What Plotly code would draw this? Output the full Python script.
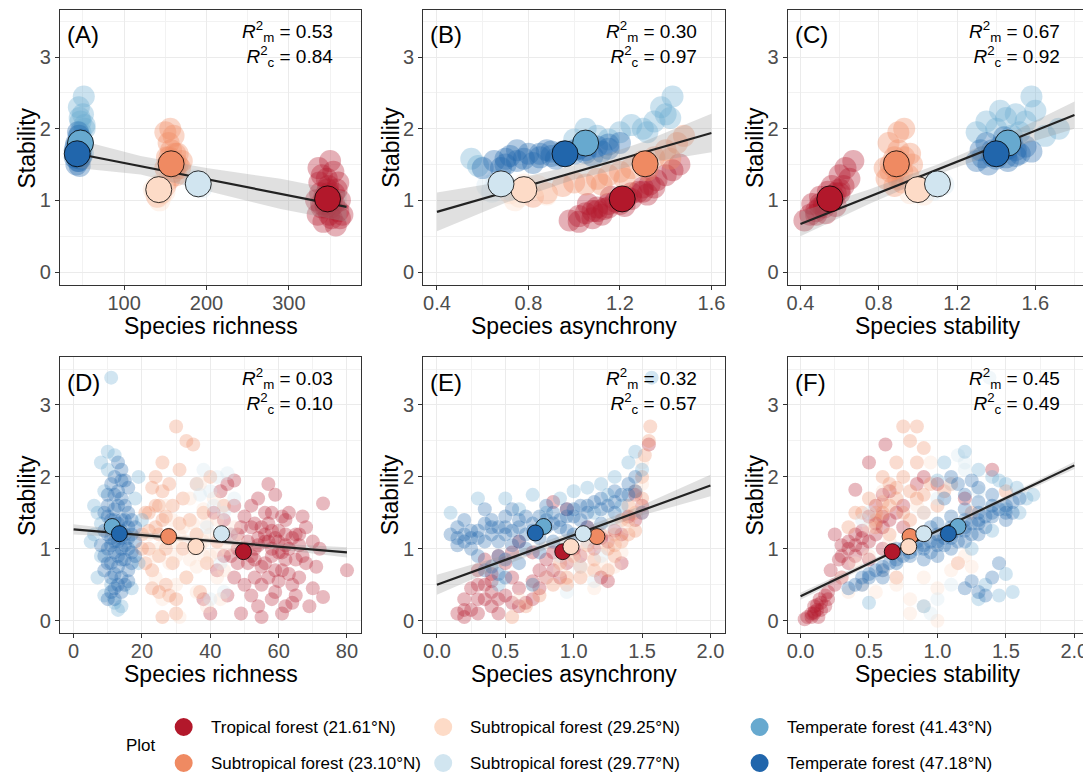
import plotly.graph_objects as go

# page offset: the browser body has an 8px margin
OFF = 8
W, H = 1091 - OFF, 773 - OFF

# ---------------- groups ----------------
KEYS = ["trop", "sub23", "sub2925", "sub2977", "temp41", "temp47"]
LABELS = ["Tropical forest (21.61°N)", "Subtropical forest (23.10°N)",
          "Subtropical forest (29.25°N)", "Subtropical forest (29.77°N)",
          "Temperate forest (41.43°N)", "Temperate forest (47.18°N)"]
COLORS = ["#B2182B", "#EF8A62", "#FDDBC7", "#D1E5F0", "#67A9CF", "#2166AC"]

# ---------------- panel A : species richness ----------------
A_CLOUD = {
    "trop": [(335, 0.8), (340, 0.9), (345, 1.0), (350, 1.05), (355, 0.95), (360, 0.85), (338, 1.1), (348, 1.2),
             (358, 1.15), (342, 0.7), (352, 0.75), (362, 1.0), (333, 1.0), (346, 1.3), (354, 1.4), (350, 1.55),
             (340, 1.35), (365, 0.8), (357, 0.65), (345, 0.9), (348, 1.1), (352, 1.0), (343, 1.05), (337, 1.25),
             (344, 0.95), (351, 0.9), (347, 1.15), (355, 1.1), (339, 0.95), (349, 0.8), (360, 1.25), (336, 1.45),
             (362, 0.75)],
    "sub23": [(155, 1.3), (160, 1.4), (150, 1.45), (165, 1.5), (158, 1.55), (152, 1.6), (162, 1.65), (157, 1.7),
              (168, 1.45), (154, 1.8), (160, 1.9), (150, 1.95), (163, 1.35), (170, 1.55), (156, 2.0), (145, 1.1),
              (150, 1.2), (140, 1.05), (158, 1.45), (162, 1.5), (155, 1.6), (165, 1.65)],
    "sub2925": [(142, 1.05), (138, 1.1), (145, 1.15), (140, 1.2), (147, 1.25), (136, 1.15), (143, 1.0), (149, 1.12)],
    "sub2977": [(188, 1.2), (192, 1.25), (186, 1.28), (194, 1.18), (190, 1.22)],
    "temp41": [(48, 1.7), (50, 1.8), (46, 1.9), (52, 2.0), (47, 2.1), (50, 2.2), (45, 2.3), (51, 2.45),
               (49, 1.75), (47, 1.95), (52, 2.05), (46, 2.15), (50, 1.65)],
    "temp47": [(42, 1.5), (45, 1.55), (40, 1.6), (48, 1.62), (43, 1.68), (46, 1.72), (41, 1.75), (47, 1.58),
               (44, 1.65), (42, 1.8), (48, 1.85), (45, 1.9), (40, 1.7), (46, 1.48), (44, 1.95), (43, 1.6),
               (45, 1.7), (44, 1.55), (47, 1.75)],
}
A_MEAN_X = [347, 157, 142, 190, 47, 43]
A_MEAN_Y = [1.02, 1.51, 1.15, 1.23, 1.80, 1.65]
A_FIT_X = [43, 120, 200, 290, 370]
A_FIT_Y = [1.65, 1.476, 1.295, 1.091, 0.91]
A_LO = [1.45, 1.36, 1.13, 0.88, 0.70]
A_HI = [1.85, 1.62, 1.45, 1.30, 1.12]
A_R2 = ("0.53", "0.84")

# ---------------- panel B : species asynchrony ----------------
B_CLOUD = {
    "trop": [(0.98, 0.72), (1.02, 0.78), (1.05, 0.82), (1.08, 0.85), (1.1, 0.9), (1.13, 0.88), (1.15, 0.95),
             (1.18, 0.98), (1.2, 1.0), (1.23, 1.05), (1.25, 1.1), (1.28, 1.12), (1.3, 1.18), (1.33, 1.22),
             (1.36, 1.28), (1.4, 1.35), (1.43, 1.42), (1.46, 1.5), (1.12, 0.8), (1.22, 0.92), (1.32, 1.08),
             (1.06, 0.95), (1.16, 1.05), (1.15, 0.9), (1.2, 0.95), (1.25, 1.02), (1.3, 1.12), (1.1, 0.85),
             (1.35, 1.18), (1.02, 0.7), (1.08, 0.75)],
    "sub23": [(0.95, 1.2), (1.0, 1.25), (1.05, 1.22), (1.1, 1.3), (1.15, 1.35), (1.2, 1.4), (1.25, 1.45),
              (1.3, 1.55), (1.35, 1.6), (1.4, 1.7), (1.45, 1.8), (1.48, 1.9), (1.42, 1.58), (1.32, 1.42),
              (1.22, 1.3), (1.12, 1.22), (0.82, 1.05), (0.78, 1.15), (0.88, 1.1)],
    "sub2925": [(0.72, 1.1), (0.76, 1.05), (0.8, 1.15), (0.84, 1.2), (0.88, 1.08), (0.78, 1.22), (0.74, 1.0)],
    "sub2977": [(0.62, 1.2), (0.66, 1.28), (0.7, 1.22), (0.72, 1.15), (0.64, 1.12)],
    "temp41": [(1.0, 1.85), (1.1, 1.9), (1.2, 1.95), (1.3, 2.0), (1.35, 2.1), (1.4, 2.2), (1.43, 2.45),
               (1.38, 2.3), (1.32, 1.95), (1.25, 2.05), (1.15, 1.85), (1.05, 2.0), (1.42, 2.15), (0.55, 1.58),
               (0.58, 1.48)],
    "temp47": [(0.6, 1.45), (0.65, 1.55), (0.7, 1.5), (0.72, 1.62), (0.78, 1.58), (0.8, 1.65), (0.85, 1.6),
               (0.88, 1.7), (0.9, 1.62), (0.95, 1.68), (1.0, 1.65), (1.02, 1.72), (1.05, 1.7), (1.1, 1.75),
               (1.12, 1.68), (1.15, 1.78), (1.2, 1.8), (0.75, 1.7), (0.82, 1.52), (0.92, 1.58), (1.08, 1.62),
               (0.75, 1.55), (0.85, 1.65), (0.95, 1.62), (1.0, 1.7), (1.05, 1.66), (0.9, 1.68), (1.15, 1.72),
               (0.7, 1.58), (0.68, 1.45)],
}
B_MEAN_X = [1.21, 1.31, 0.78, 0.68, 1.05, 0.96]
B_MEAN_Y = [1.02, 1.51, 1.15, 1.23, 1.80, 1.65]
B_FIT_X = [0.4, 0.7, 1.0, 1.3, 1.6]
B_FIT_Y = [0.84, 1.115, 1.39, 1.665, 1.94]
B_LO = [0.57, 0.965, 1.29, 1.515, 1.67]
B_HI = [1.11, 1.265, 1.49, 1.815, 2.21]
B_R2 = ("0.30", "0.97")

# ---------------- panel C : species stability ----------------
C_CLOUD = {
    "trop": [(0.42, 0.72), (0.45, 0.8), (0.48, 0.85), (0.5, 0.9), (0.52, 0.95), (0.55, 1.0), (0.57, 1.05),
             (0.6, 1.1), (0.62, 1.2), (0.65, 1.3), (0.67, 1.55), (0.5, 1.05), (0.56, 1.2), (0.6, 1.35),
             (0.53, 0.82), (0.58, 0.92), (0.46, 0.95), (0.63, 1.45), (0.5, 0.95), (0.55, 1.05), (0.52, 0.9),
             (0.58, 1.1), (0.48, 0.8), (0.6, 1.15), (0.54, 1.12)],
    "sub23": [(0.84, 1.3), (0.86, 1.5), (0.88, 1.6), (0.9, 1.7), (0.92, 1.4), (0.95, 1.35), (0.85, 1.8),
              (0.9, 1.95), (0.93, 2.0), (0.97, 1.5), (0.88, 1.2), (0.92, 1.25), (0.83, 1.45), (0.96, 1.65),
              (0.88, 1.45), (0.9, 1.55), (0.86, 1.4), (0.93, 1.6), (0.9, 1.3)],
    "sub2925": [(0.96, 1.1), (1.0, 1.2), (1.03, 1.08), (0.98, 1.25)],
    "sub2977": [(1.07, 1.2), (1.1, 1.28), (1.13, 1.22), (1.08, 1.15)],
    "temp41": [(1.35, 2.1), (1.4, 2.0), (1.45, 2.15), (1.5, 2.2), (1.55, 2.1), (1.58, 2.45), (1.6, 2.25),
               (1.52, 1.95), (1.72, 2.0), (1.65, 1.9), (1.3, 1.95), (1.42, 2.25), (1.48, 1.9)],
    "temp47": [(1.3, 1.55), (1.33, 1.6), (1.36, 1.5), (1.38, 1.7), (1.4, 1.65), (1.42, 1.75), (1.45, 1.6),
               (1.48, 1.8), (1.5, 1.7), (1.52, 1.65), (1.55, 1.75), (1.35, 1.8), (1.44, 1.88), (1.32, 1.7),
               (1.58, 1.68), (1.46, 1.55), (1.38, 1.62), (1.42, 1.68), (1.46, 1.72), (1.4, 1.58), (1.5, 1.62),
               (1.44, 1.7)],
}
C_MEAN_X = [0.55, 0.89, 1.00, 1.10, 1.46, 1.40]
C_MEAN_Y = [1.02, 1.51, 1.15, 1.23, 1.80, 1.65]
C_FIT_X = [0.4, 0.75, 1.1, 1.45, 1.8]
C_FIT_Y = [0.67, 1.05, 1.43, 1.81, 2.19]
C_LO = [0.50, 0.95, 1.36, 1.71, 2.00]
C_HI = [0.84, 1.15, 1.50, 1.91, 2.38]
C_R2 = ("0.67", "0.92")

# ---------------- panel D : species richness (subplots) ----------------
D_CLOUD = {
    "trop": [(38, 0.3), (40, 0.1), (42, 0.7), (44, 1.4), (45, 1.9), (46, 0.9), (48, 1.2), (50, 0.5), (52, 1.6),
             (53, 1.0), (54, 0.2), (55, 1.3), (56, 0.8), (57, 1.9), (58, 1.5), (59, 0.4), (60, 1.1), (61, 0.7),
             (62, 1.4), (63, 1.0), (64, 0.25), (65, 1.2), (66, 0.6), (67, 0.9), (68, 1.3), (69, 0.2), (70, 1.1),
             (71, 0.75), (72, 1.0), (73, 1.63), (73, 0.33), (80, 0.7), (47, 1.6), (49, 0.1), (51, 1.1), (53, 0.6),
             (55, 0.05), (57, 1.1), (59, 1.75), (61, 0.1), (63, 1.5), (48, 0.8), (50, 1.45), (52, 0.35), (54, 1.7),
             (56, 1.5), (58, 0.9), (60, 0.55), (62, 1.2), (45, 0.35), (43, 1.8), (47, 1.95), (65, 0.35), (67, 1.45),
             (41, 1.5), (58, 1.25), (52, 1.3), (56, 1.1), (60, 0.95), (54, 1.15), (62, 0.85), (48, 1.0), (64, 1.15),
             (66, 1.05), (50, 1.0), (52, 0.9), (54, 1.05), (56, 1.2), (58, 1.0), (60, 1.25), (62, 1.05), (55, 0.75),
             (57, 0.6), (59, 1.15), (61, 0.95), (53, 1.35), (51, 0.8), (49, 1.3), (63, 0.65), (65, 0.85), (57, 1.35),
             (55, 0.5), (59, 0.7), (61, 1.45), (53, 0.85), (47, 0.6), (44, 0.9), (46, 1.2), (64, 0.5), (66, 1.2),
             (68, 0.8), (70, 0.45), (58, 0.3), (62, 0.2)],
    "sub23": [(20, 1.2), (22, 1.5), (24, 2.0), (26, 1.8), (28, 1.2), (25, 0.9), (23, 0.7), (27, 0.5), (30, 0.3),
              (32, 1.0), (29, 1.6), (31, 2.1), (33, 2.5), (30, 2.7), (35, 2.45), (26, 2.2), (34, 1.4), (36, 1.9),
              (38, 1.5), (40, 2.0), (42, 1.1), (22, 1.0), (21, 0.8), (24, 1.3), (27, 1.0), (29, 0.8), (33, 0.6),
              (37, 0.4), (26, 0.05), (30, 0.1), (28, 1.9), (25, 1.6), (32, 1.7), (36, 1.2), (39, 0.8), (44, 1.6),
              (23, 1.85), (31, 1.35), (27, 1.45), (22, 1.25), (25, 1.2), (24, 1.6), (26, 1.4), (21, 1.5),
              (23, 0.45), (28, 0.35), (20, 1.0), (25, 0.4)],
    "sub2925": [(22, 1.2), (25, 1.0), (28, 0.8), (30, 1.1), (32, 1.3), (35, 1.0), (38, 0.9), (40, 1.2), (42, 1.4),
                (45, 1.0), (33, 0.6), (36, 0.4), (39, 0.2), (30, 0.5), (27, 1.6), (34, 1.7), (37, 1.9), (41, 1.7),
                (44, 0.7), (47, 1.3), (26, 0.3), (31, 0.05), (43, 0.3), (35, 1.35), (38, 1.55), (29, 1.4),
                (48, 1.1), (24, 0.6), (36, 0.75), (42, 0.95), (30, 0.9), (33, 1.1), (36, 1.2), (38, 1.1), (40, 0.9),
                (34, 0.85), (31, 1.2), (37, 1.05), (27, 1.15), (24, 0.9), (42, 0.6), (39, 1.35)],
    "sub2977": [(36, 1.9), (38, 2.1), (40, 1.8), (42, 2.0), (44, 1.5), (46, 1.2), (39, 1.3), (43, 0.8), (45, 2.05),
                (41, 1.6), (37, 1.75), (47, 1.7), (44, 0.4), (40, 0.3)],
    "temp41": [(6, 1.2), (7, 1.5), (8, 0.9), (9, 1.8), (10, 2.1), (11, 0.5), (12, 2.3), (13, 0.15), (7, 0.6),
               (8, 2.2), (6, 1.6), (9, 0.35), (19, 2.0), (20, 1.4), (17, 0.45), (5, 1.1), (14, 0.2), (10, 2.35),
               (12, 0.25), (19, 0.8), (18, 1.7), (8, 1.35), (11, 3.38)],
    "temp47": [(10, 0.3), (12, 0.45), (14, 0.6), (9, 0.7), (11, 0.8), (13, 0.9), (15, 0.85), (16, 1.0), (10, 1.0),
               (12, 1.1), (14, 1.15), (17, 1.2), (9, 1.25), (11, 1.3), (13, 1.35), (15, 1.4), (16, 1.5), (12, 1.55),
               (10, 1.6), (14, 1.7), (13, 1.8), (11, 1.9), (15, 1.95), (12, 2.0), (14, 2.1), (17, 0.95), (18, 1.1),
               (8, 1.05), (13, 0.5), (11, 0.4), (16, 0.7), (10, 1.45), (14, 1.25), (12, 0.65), (15, 1.6), (18, 1.3),
               (9, 0.9), (13, 2.2), (11, 1.15), (16, 1.85), (10, 1.2), (12, 1.25), (14, 1.0), (16, 1.15), (11, 1.05),
               (13, 1.1), (15, 1.2), (12, 0.95), (14, 1.4), (10, 0.8), (13, 1.6), (15, 1.05), (17, 1.4), (12, 1.75),
               (11, 0.6), (14, 0.85), (16, 1.3), (9, 1.5), (13, 0.75), (15, 0.5), (12, 0.3), (14, 1.95), (10, 1.75),
               (17, 0.8), (11, 1.4), (13, 1.2), (18, 0.9), (16, 0.55), (12, 1.4), (14, 0.4)],
}
D_MEAN_X = [49.7, 27.8, 35.8, 43.3, 11.3, 13.4]
D_MEAN_Y = [0.96, 1.17, 1.03, 1.21, 1.31, 1.21]
D_FIT_X = [0, 20, 40, 60, 80]
D_FIT_Y = [1.27, 1.19, 1.11, 1.03, 0.95]
D_LO = [1.20, 1.15, 1.08, 0.99, 0.88]
D_HI = [1.34, 1.23, 1.14, 1.07, 1.02]
D_R2 = ("0.03", "0.10")

# ---------------- panel E : species asynchrony (subplots) ----------------
E_CLOUD = {
    "trop": [(0.15, 0.1), (0.2, 0.05), (0.25, 0.15), (0.3, 0.3), (0.35, 0.5), (0.4, 0.2), (0.45, 0.1), (0.5, 0.35),
             (0.55, 0.6), (0.6, 0.45), (0.3, 0.7), (0.35, 0.85), (0.4, 0.65), (0.45, 0.9), (0.5, 0.8), (0.65, 0.25),
             (0.7, 0.55), (0.75, 0.7), (0.8, 0.85), (0.85, 0.95), (0.9, 0.6), (1.0, 1.0), (1.1, 1.3), (1.2, 1.15),
             (1.3, 1.25), (1.4, 1.45), (1.45, 1.75), (1.5, 1.6), (1.55, 2.45), (0.95, 1.55), (0.85, 1.65),
             (0.25, 0.45), (0.55, 0.95), (0.6, 1.1), (1.2, 0.6), (1.35, 0.8), (1.25, 0.55), (0.7, 0.95), (0.4, 0.4),
             (0.2, 0.3), (0.2, 0.15), (0.3, 0.1), (0.35, 0.3), (0.45, 0.3), (0.55, 0.25), (0.6, 0.2), (0.7, 0.3),
             (0.75, 0.45), (0.8, 0.6), (0.85, 0.7), (0.95, 0.8), (1.05, 0.9), (1.15, 1.0), (1.25, 1.1), (1.35, 1.2),
             (1.45, 1.4), (1.5, 1.5), (0.3, 0.5), (0.4, 0.55)],
    "sub23": [(0.55, 0.05), (0.65, 0.2), (0.75, 0.35), (0.85, 0.5), (0.95, 0.6), (1.05, 0.75), (1.15, 0.85),
              (1.25, 1.0), (1.3, 1.2), (1.35, 1.4), (1.4, 1.6), (1.45, 1.8), (1.5, 2.0), (1.52, 2.3), (1.55, 2.5),
              (1.56, 2.7), (1.0, 0.9), (1.1, 1.05), (1.2, 1.2), (1.3, 0.9), (1.4, 1.2), (1.45, 1.5), (0.9, 0.8),
              (1.25, 0.7), (1.35, 1.1), (1.4, 1.4), (1.45, 1.25), (1.5, 1.7), (1.15, 0.7), (1.05, 0.6), (0.95, 0.5),
              (1.3, 1.05)],
    "sub2925": [(0.6, 0.3), (0.7, 0.5), (0.8, 0.6), (0.9, 0.7), (1.0, 0.85), (1.1, 0.95), (1.2, 1.05), (1.3, 1.1),
                (1.4, 1.3), (1.45, 1.6), (1.5, 1.9), (1.1, 0.7), (1.2, 0.8), (1.3, 0.75), (0.95, 1.0), (1.15, 0.45),
                (1.35, 0.95), (1.5, 2.2)],
    "sub2977": [(1.0, 1.2), (1.1, 1.1), (1.2, 0.9), (1.05, 0.75), (0.95, 0.4), (1.3, 1.3), (1.15, 0.55),
                (1.25, 1.5), (0.9, 0.9)],
    "temp41": [(0.3, 1.7), (0.5, 1.7), (0.7, 1.75), (0.9, 1.7), (1.0, 1.8), (1.1, 1.85), (1.2, 1.9), (1.3, 2.0),
               (1.4, 2.2), (1.45, 2.35), (1.5, 2.1), (1.35, 1.6), (0.8, 1.5), (0.6, 1.55), (0.45, 0.5), (1.15, 1.5),
               (1.25, 1.75), (1.5, 1.5), (0.1, 1.5), (1.57, 3.38)],
    "temp47": [(0.1, 1.2), (0.15, 1.3), (0.2, 1.1), (0.25, 1.25), (0.3, 1.15), (0.35, 1.35), (0.4, 1.2),
               (0.45, 1.1), (0.5, 1.3), (0.55, 1.25), (0.6, 1.4), (0.65, 1.2), (0.7, 1.35), (0.75, 1.45), (0.8, 1.3),
               (0.85, 1.5), (0.9, 1.4), (0.95, 1.55), (1.0, 1.45), (1.05, 1.6), (1.1, 1.5), (1.15, 1.65), (1.2, 1.7),
               (1.25, 1.6), (1.3, 1.8), (1.35, 1.75), (1.4, 1.9), (1.45, 2.0), (0.3, 0.9), (0.4, 0.75), (0.5, 0.6),
               (0.6, 0.8), (0.7, 0.5), (0.35, 1.55), (0.55, 1.55), (0.25, 1.0), (0.45, 0.9), (0.65, 1.0),
               (0.85, 1.1), (0.2, 1.4), (0.75, 0.95), (1.0, 1.2), (1.2, 1.35), (0.5, 1.45), (0.15, 1.05), (0.8, 1.6),
               (0.95, 1.25), (1.1, 1.3), (1.3, 1.5), (0.4, 1.4), (0.2, 1.2), (0.3, 1.25), (0.4, 1.3), (0.5, 1.2),
               (0.6, 1.3), (0.7, 1.25), (0.8, 1.4), (0.9, 1.3), (1.0, 1.55), (1.1, 1.6), (1.2, 1.55), (1.3, 1.65),
               (1.4, 1.75), (0.45, 1.3), (0.25, 1.15), (0.35, 1.1), (0.55, 1.05), (0.65, 1.45), (0.75, 1.15),
               (0.85, 1.35), (0.15, 1.15), (0.5, 0.85), (0.6, 1.1), (0.35, 0.7), (0.45, 0.65), (1.45, 1.8),
               (1.05, 1.4), (0.95, 1.45)],
}
E_MEAN_X = [0.92, 1.17, 0.98, 1.07, 0.78, 0.72]
E_MEAN_Y = [0.96, 1.17, 1.03, 1.21, 1.31, 1.22]
E_FIT_X = [0.0, 0.5, 1.0, 1.5, 2.0]
E_FIT_Y = [0.50, 0.845, 1.19, 1.535, 1.88]
E_LO = [0.36, 0.775, 1.14, 1.465, 1.73]
E_HI = [0.64, 0.915, 1.24, 1.605, 2.03]
E_R2 = ("0.32", "0.57")

# ---------------- panel F : species stability (subplots) ----------------
F_CLOUD = {
    "trop": [(0.03, 0.02), (0.08, 0.1), (0.1, 0.2), (0.12, 0.15), (0.15, 0.25), (0.13, 0.05), (0.18, 0.35),
             (0.2, 0.4), (0.25, 0.5), (0.3, 0.6), (0.35, 0.8), (0.4, 0.9), (0.45, 1.0), (0.5, 1.1), (0.55, 1.2),
             (0.6, 1.3), (0.65, 1.4), (0.7, 1.5), (0.75, 1.6), (0.3, 1.05), (0.35, 1.0), (0.4, 1.2), (0.45, 1.25),
             (0.5, 1.45), (0.55, 1.6), (0.6, 1.75), (0.4, 1.82), (0.25, 1.2), (0.22, 0.7), (0.28, 0.85), (0.5, 0.85),
             (0.6, 1.0), (0.65, 1.8), (0.75, 1.3), (0.85, 1.9), (0.9, 2.0), (1.0, 1.9), (1.2, 1.7), (1.4, 2.1),
             (0.62, 2.45), (0.1, 0.12), (0.05, 0.05), (0.5, 2.2), (0.1, 0.1), (0.15, 0.15), (0.12, 0.22),
             (0.18, 0.2), (0.08, 0.05), (0.2, 0.3), (0.14, 0.3), (0.3, 0.9), (0.35, 1.1), (0.4, 1.05), (0.45, 1.15),
             (0.55, 1.35), (0.6, 1.45)],
    "sub23": [(0.45, 1.5), (0.5, 1.7), (0.55, 1.5), (0.6, 2.0), (0.65, 1.9), (0.7, 1.7), (0.75, 2.0), (0.8, 2.5),
              (0.85, 2.2), (0.9, 2.4), (0.95, 1.9), (0.75, 2.7), (0.85, 2.7), (0.7, 2.2), (1.0, 1.6), (1.05, 1.8),
              (0.6, 1.5), (0.55, 1.3), (0.65, 1.2), (0.8, 1.4), (0.9, 1.5), (1.1, 1.9), (1.25, 1.5), (1.5, 1.8),
              (0.35, 1.3), (0.4, 1.5), (1.15, 0.8), (0.7, 0.6), (0.6, 1.65), (0.7, 1.85), (0.8, 1.8), (0.65, 1.6),
              (0.75, 1.5), (0.85, 1.7), (0.9, 1.75), (0.55, 1.4)],
    "sub2925": [(0.3, 0.6), (0.4, 0.8), (0.5, 0.9), (0.6, 0.7), (0.7, 0.5), (0.8, 0.3), (0.9, 0.2), (0.8, 0.1),
                (1.0, 0.0), (0.7, 0.9), (0.9, 0.6), (1.0, 0.45), (1.1, 0.7), (1.2, 0.9), (0.55, 0.4), (0.45, 0.5),
                (0.35, 0.4), (0.65, 1.1), (0.5, 1.3), (0.85, 1.6), (1.0, 1.2), (0.95, 2.2), (0.6, 1.8), (1.25, 0.75)],
    "sub2977": [(0.9, 1.5), (1.0, 1.7), (1.1, 1.9), (1.2, 2.1), (1.15, 2.3), (1.3, 1.8), (1.4, 1.6), (0.8, 1.2),
                (0.5, 1.5), (0.45, 1.4), (0.95, 0.1), (1.0, 0.3), (1.2, 2.2), (1.38, 3.38), (0.7, 0.8), (1.1, 0.5)],
    "temp41": [(0.5, 0.25), (0.9, 0.2), (1.3, 2.1), (1.2, 2.35), (1.5, 0.65), (1.55, 0.4), (1.45, 0.35), (1.6, 1.5),
               (1.7, 1.75), (1.65, 1.7), (1.5, 1.9), (1.35, 0.5), (1.4, 2.0), (1.3, 0.3), (1.45, 1.95), (1.05, 2.2),
               (1.5, 1.55), (1.58, 1.85), (1.0, 1.95), (1.25, 1.0), (1.4, 1.25)],
    "temp47": [(0.35, 0.45), (0.4, 0.5), (0.45, 0.6), (0.5, 0.65), (0.55, 0.7), (0.6, 0.75), (0.65, 0.8),
               (0.7, 0.85), (0.75, 0.9), (0.8, 0.95), (0.85, 1.0), (0.9, 1.05), (0.95, 1.1), (1.0, 1.1), (1.05, 1.15),
               (1.1, 1.2), (1.15, 1.25), (1.2, 1.3), (1.25, 1.35), (1.3, 1.4), (1.35, 1.45), (1.4, 1.5), (1.45, 1.55),
               (1.5, 1.6), (1.55, 1.65), (0.9, 0.85), (1.0, 0.9), (1.1, 1.0), (1.2, 1.1), (1.3, 1.2), (1.0, 1.35),
               (1.1, 1.45), (1.2, 1.55), (1.3, 1.65), (1.4, 1.75), (0.8, 1.15), (0.95, 1.3), (1.25, 0.55),
               (1.3, 0.4), (1.35, 0.35), (1.2, 0.45), (1.4, 0.6), (1.45, 0.8), (1.05, 1.7), (1.15, 1.9), (1.25, 1.95),
               (1.1, 2.0), (0.7, 1.0), (0.6, 0.6), (1.5, 1.4), (0.6, 0.7), (0.7, 0.8), (0.8, 0.9), (0.9, 1.0),
               (1.0, 1.05), (1.1, 1.15), (1.2, 1.25), (1.3, 1.35), (1.4, 1.45), (1.5, 1.5), (1.0, 1.2), (1.1, 1.3),
               (1.2, 1.4), (1.3, 1.5), (1.4, 1.6), (0.95, 0.95), (1.05, 1.05), (1.15, 1.1), (1.25, 1.2), (1.35, 1.3),
               (0.5, 0.6), (0.45, 0.5), (1.6, 1.7), (1.55, 1.5), (1.2, 1.75), (1.3, 1.85), (0.85, 1.1), (0.75, 1.0)],
}
F_MEAN_X = [0.67, 0.80, 0.79, 0.90, 1.15, 1.08]
F_MEAN_Y = [0.96, 1.17, 1.03, 1.21, 1.31, 1.21]
F_FIT_X = [0.0, 0.5, 1.0, 1.5, 2.0]
F_FIT_Y = [0.34, 0.795, 1.25, 1.705, 2.16]
F_LO = [0.29, 0.765, 1.23, 1.675, 2.11]
F_HI = [0.39, 0.825, 1.27, 1.735, 2.21]
F_R2 = ("0.45", "0.49")

X_TITLES = ["Species richness", "Species asynchrony", "Species stability"]

# ---------------- layout geometry (window pixels) ----------------
PANELS = [
    dict(tag="A", cloud=A_CLOUD, mx=A_MEAN_X, my=A_MEAN_Y, fx=A_FIT_X, fy=A_FIT_Y, lo=A_LO, hi=A_HI, r2=A_R2,
         box=(59, 361, 10, 285), xr=[22, 388], yr=[-0.181, 3.656], dt=100, mdt=50, fmt="d", ps=22, ms=26, xt=0,
         op=0.34),
    dict(tag="B", cloud=B_CLOUD, mx=B_MEAN_X, my=B_MEAN_Y, fx=B_FIT_X, fy=B_FIT_Y, lo=B_LO, hi=B_HI, r2=B_R2,
         box=(423, 725, 10, 285), xr=[0.34, 1.658], yr=[-0.181, 3.656], dt=0.4, mdt=0.2, fmt=".1f", ps=22, ms=26,
         xt=1, op=0.34),
    dict(tag="C", cloud=C_CLOUD, mx=C_MEAN_X, my=C_MEAN_Y, fx=C_FIT_X, fy=C_FIT_Y, lo=C_LO, hi=C_HI, r2=C_R2,
         box=(788, 1089, 10, 285), xr=[0.334, 1.869], yr=[-0.181, 3.656], dt=0.4, mdt=0.2, fmt=".1f", ps=22, ms=26,
         xt=2, op=0.34),
    dict(tag="D", cloud=D_CLOUD, mx=D_MEAN_X, my=D_MEAN_Y, fx=D_FIT_X, fy=D_FIT_Y, lo=D_LO, hi=D_HI, r2=D_R2,
         box=(59, 361, 357, 633), xr=[-4.0, 84.2], yr=[-0.171, 3.667], dt=20, mdt=10, fmt="d", ps=14, ms=16, xt=0,
         op=0.3),
    dict(tag="E", cloud=E_CLOUD, mx=E_MEAN_X, my=E_MEAN_Y, fx=E_FIT_X, fy=E_FIT_Y, lo=E_LO, hi=E_HI, r2=E_R2,
         box=(423, 725, 357, 633), xr=[-0.1, 2.104], yr=[-0.171, 3.667], dt=0.5, mdt=0.25, fmt=".1f", ps=14, ms=16,
         xt=1, op=0.3),
    dict(tag="F", cloud=F_CLOUD, mx=F_MEAN_X, my=F_MEAN_Y, fx=F_FIT_X, fy=F_FIT_Y, lo=F_LO, hi=F_HI, r2=F_R2,
         box=(788, 1089, 357, 633), xr=[-0.095, 2.1], yr=[-0.171, 3.667], dt=0.5, mdt=0.25, fmt=".1f", ps=14, ms=16,
         xt=2, op=0.3),
]

FONT = "Arial, Liberation Sans, Arimo, sans-serif"


def px(x):
    return (x - OFF) / W


def py(y):
    return 1 - (y - OFF) / H


fig = go.Figure()
annotations = []
shapes = []
layout_axes = {}

for i, P in enumerate(PANELS):
    n = i + 1
    xa = "x" if n == 1 else f"x{n}"
    ya = "y" if n == 1 else f"y{n}"
    l, r, t, b = P["box"]

    for k, key in enumerate(KEYS):
        pts = P["cloud"][key]
        fig.add_trace(go.Scatter(
            x=[p[0] for p in pts], y=[p[1] for p in pts], mode="markers", xaxis=xa, yaxis=ya,
            marker=dict(size=P["ps"], color=COLORS[k], opacity=P["op"], line=dict(width=0)),
            showlegend=False, hoverinfo="skip"))

    fig.add_trace(go.Scatter(
        x=P["fx"] + P["fx"][::-1], y=P["hi"] + P["lo"][::-1], fill="toself", mode="lines",
        fillcolor="rgba(153,153,153,0.3)", line=dict(width=0), xaxis=xa, yaxis=ya,
        showlegend=False, hoverinfo="skip"))
    fig.add_trace(go.Scatter(
        x=P["fx"], y=P["fy"], mode="lines", line=dict(color="#222222", width=2.2),
        xaxis=xa, yaxis=ya, showlegend=False, hoverinfo="skip"))
    fig.add_trace(go.Scatter(
        x=P["mx"], y=P["my"], mode="markers", xaxis=xa, yaxis=ya,
        marker=dict(size=P["ms"], color=COLORS, opacity=1, line=dict(width=0.8, color="black")),
        showlegend=False, hoverinfo="skip"))

    common = dict(showline=True, mirror=True, linecolor="#333333", linewidth=1, zeroline=False,
                  showgrid=True, gridcolor="#EBEBEB", gridwidth=1.1, ticks="outside", ticklen=4,
                  tickcolor="#333333", tickwidth=1,
                  tickfont=dict(family=FONT, size=20, color="#4D4D4D"))
    layout_axes["xaxis" if n == 1 else f"xaxis{n}"] = dict(
        common, domain=[px(l), px(r)], range=P["xr"], anchor=ya, tick0=0, dtick=P["dt"],
        tickformat=P["fmt"], ticklabelstandoff=-4,
        minor=dict(dtick=P["mdt"], tick0=0, showgrid=True, gridcolor="#F2F2F2", gridwidth=0.6, ticklen=0))
    layout_axes["yaxis" if n == 1 else f"yaxis{n}"] = dict(
        common, domain=[py(b), py(t)], range=P["yr"], anchor=xa, tick0=0, dtick=1,
        minor=dict(dtick=0.5, tick0=0, showgrid=True, gridcolor="#F2F2F2", gridwidth=0.6, ticklen=0))

    # panel tag
    annotations.append(dict(text=f"({P['tag']})", x=px(l + 5), y=py(t + 25), xref="paper", yref="paper",
                            xanchor="left", yanchor="middle", showarrow=False,
                            font=dict(family=FONT, size=24, color="black")))
    # R2 (two lines in one right-aligned text block)
    r2_text = (f"<i>R</i><sup>2</sup><sub>m</sub> = {P['r2'][0]}<br>"
               f"<i>R</i><sup>2</sup><sub>c</sub> = {P['r2'][1]}")
    annotations.append(dict(text=r2_text, x=px(r - 26), y=py(t + 34), xref="paper", yref="paper",
                            xanchor="right", yanchor="middle", align="right", showarrow=False,
                            font=dict(family=FONT, size=19, color="black")))
    # axis titles
    annotations.append(dict(text=X_TITLES[P["xt"]], x=px((l + r) / 2), y=py(b + 41), xref="paper",
                            yref="paper", xanchor="center", yanchor="middle", showarrow=False,
                            font=dict(family=FONT, size=23, color="black")))
    annotations.append(dict(text="Stability", x=px(l - 33), y=py((t + b) / 2), xref="paper", yref="paper",
                            xanchor="center", yanchor="middle", textangle=-90, showarrow=False,
                            font=dict(family=FONT, size=23, color="black")))

# ---------------- manual legend ----------------
annotations.append(dict(text="Plot", x=px(140), y=py(745), xref="paper", yref="paper", xanchor="center",
                        yanchor="middle", showarrow=False, font=dict(family=FONT, size=17, color="black")))
LEG_COL_X = [183, 443, 760]
LEG_ROW_Y = [727, 763]
for k in range(6):
    cx = LEG_COL_X[k // 2]
    cy = LEG_ROW_Y[k % 2]
    shapes.append(dict(type="circle", xref="paper", yref="paper", xsizemode="pixel", ysizemode="pixel",
                       xanchor=px(cx), yanchor=py(cy), x0=-9, x1=9, y0=-9, y1=9,
                       fillcolor=COLORS[k], line=dict(width=0)))
    annotations.append(dict(text=LABELS[k], x=px(cx + 25), y=py(cy), xref="paper", yref="paper",
                            xanchor="left", yanchor="middle", showarrow=False,
                            font=dict(family=FONT, size=17, color="black")))

fig.update_layout(
    width=W, height=H, margin=dict(l=0, r=0, t=0, b=0),
    paper_bgcolor="white", plot_bgcolor="white",
    annotations=annotations, shapes=shapes, showlegend=False,
    **layout_axes)

fig.write_html("out.html")
